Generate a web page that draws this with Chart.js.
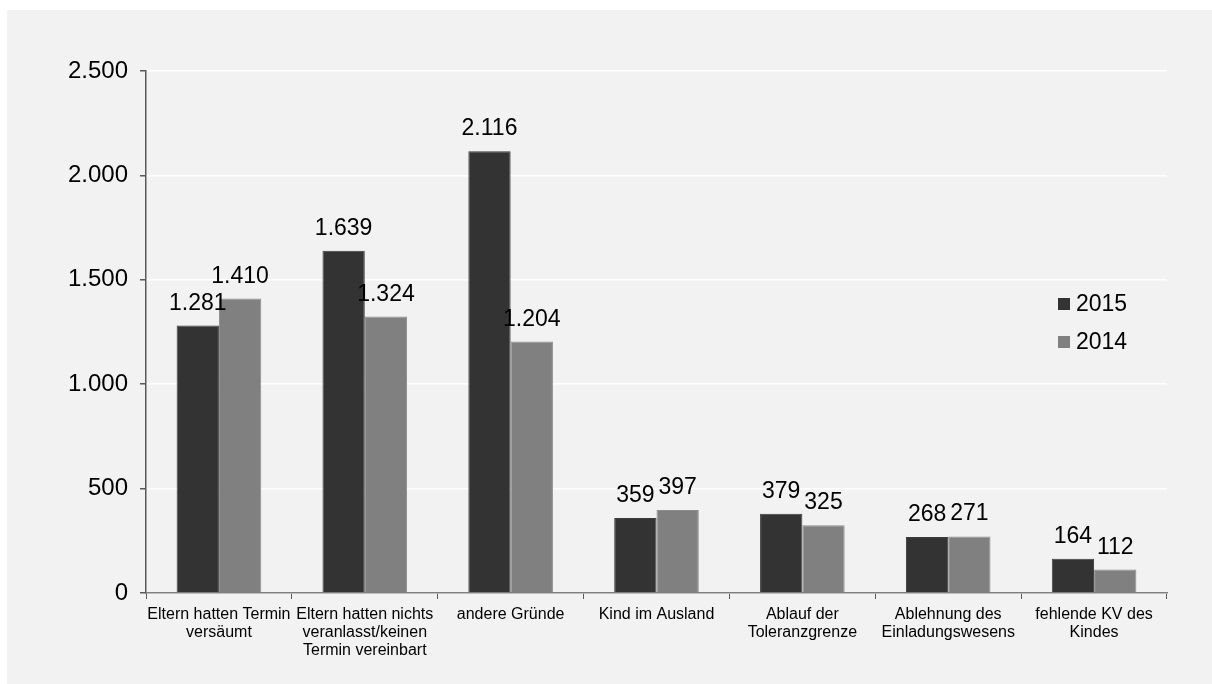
<!DOCTYPE html>
<html>
<head>
<meta charset="utf-8">
<script src="https://cdn.jsdelivr.net/npm/chart.js@4.4.0/dist/chart.umd.min.js"></script>
<style>
  html, body { margin: 0; padding: 0; background: #ffffff; overflow: hidden; }
  #wrap { position: absolute; left: 7px; top: 10px; width: 1205px; height: 674px; background: #f2f2f2; }
</style>
</head>
<body>
<div id="wrap"><canvas id="chart" width="1205" height="674"></canvas></div>
<script>
const categories = [
    ['Eltern hatten Termin', 'versäumt'],
    ['Eltern hatten nichts', 'veranlasst/keinen', 'Termin vereinbart'],
    'andere Gründe',
    'Kind im Ausland',
    ['Ablauf der', 'Toleranzgrenze'],
    ['Ablehnung des', 'Einladungswesens'],
    ['fehlende KV des', 'Kindes']
];
const values2015 = [1281, 1639, 2116, 359, 379, 268, 164];
const values2014 = [1410, 1324, 1204, 397, 325, 271, 112];
const yTicks = [0, 500, 1000, 1500, 2000, 2500];

const FONT = '"Liberation Sans", Arial, sans-serif';

// German thousands separator
function fmt(v) {
    return String(v).replace(/\B(?=(\d{3})+(?!\d))/g, '.');
}

// Value labels above each bar
const valueLabels = {
    id: 'valueLabels',
    afterDatasetsDraw(chart) {
        const ctx = chart.ctx;
        ctx.save();
        ctx.font = '23px ' + FONT;
        ctx.fillStyle = '#000000';
        ctx.textAlign = 'center';
        ctx.textBaseline = 'alphabetic';
        chart.data.datasets.forEach((ds, i) => {
            chart.getDatasetMeta(i).data.forEach((bar, j) => {
                ctx.fillText(fmt(ds.data[j]), bar.x, bar.y - 16);
            });
        });
        ctx.restore();
    }
};

// Legend drawn inside the plot, on the right
const innerLegend = {
    id: 'innerLegend',
    afterDraw(chart) {
        const ctx = chart.ctx;
        const x = chart.chartArea.right - 109;
        let y = 294;
        ctx.save();
        ctx.font = '23px ' + FONT;
        ctx.textBaseline = 'middle';
        ctx.textAlign = 'left';
        chart.data.datasets.forEach(ds => {
            ctx.fillStyle = ds.backgroundColor;
            ctx.fillRect(x, y - 6, 12, 12);
            ctx.fillStyle = '#000000';
            ctx.fillText(ds.label, x + 18, y + 1);
            y += 38;
        });
        ctx.restore();
    }
};

const ctx = document.getElementById('chart').getContext('2d');
new Chart(ctx, {
    type: 'bar',
    data: {
        labels: categories,
        datasets: [
            {
                label: '2015',
                data: values2015,
                backgroundColor: '#333333',
                borderColor: '#3c3c3c',
                borderWidth: 1,
                barPercentage: 1,
                categoryPercentage: 0.58
            },
            {
                label: '2014',
                data: values2014,
                backgroundColor: '#808080',
                borderColor: '#8c8c8c',
                borderWidth: 1,
                barPercentage: 1,
                categoryPercentage: 0.58
            }
        ]
    },
    options: {
        responsive: false,
        animation: false,
        layout: { padding: { left: 0, right: 45, top: 61, bottom: 0 } },
        plugins: {
            legend: { display: false },
            tooltip: { enabled: false }
        },
        scales: {
            x: {
                offset: true,
                grid: {
                    offset: true,
                    drawOnChartArea: false,
                    drawTicks: true,
                    tickLength: 6,
                    tickColor: '#595959'
                },
                border: { color: '#808080', width: 1.5 },
                ticks: {
                    color: '#000000',
                    padding: 6,
                    maxRotation: 0,
                    autoSkip: false,
                    font: { family: FONT, size: 16, lineHeight: 1.15 }
                },
                afterFit(scale) { scale.height = 91; }
            },
            y: {
                min: 0,
                max: 2500,
                afterBuildTicks(scale) { scale.ticks = yTicks.map(v => ({ value: v })); },
                grid: {
                    color: '#ffffff',
                    lineWidth: 1.5,
                    tickLength: 6,
                    tickColor: '#595959'
                },
                border: { color: '#595959', width: 1.5 },
                ticks: {
                    color: '#000000',
                    padding: 12,
                    font: { family: FONT, size: 24 },
                    callback: v => fmt(v)
                },
                afterFit(scale) { scale.width = 139; }
            }
        }
    },
    plugins: [valueLabels, innerLegend]
});
</script>
</body>
</html>
